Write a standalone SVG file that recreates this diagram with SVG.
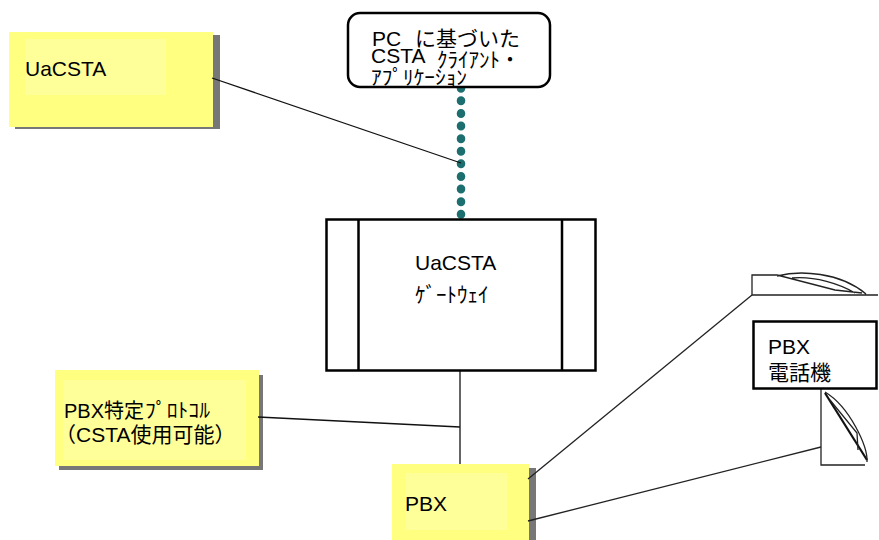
<svg xmlns="http://www.w3.org/2000/svg" width="879" height="540" viewBox="0 0 879 540">
<style>
text{font-family:"Liberation Sans","Noto Sans CJK JP",sans-serif;fill:#000;font-size:21px}
.y{fill:#ffff80}.i{fill:#ffff99}.s{fill:#777}
.l{fill:none;stroke:#111;stroke-width:1.3}
.b{fill:#fff;stroke:#000;stroke-width:2.5}
.p{fill:none;stroke:#222;stroke-width:1.3}
.kana{font-family:"Noto Sans CJK JP",sans-serif}
</style>
<rect width="879" height="540" fill="#fff"/>
<g id="node-uacsta">
<rect class="s" x="15" y="35" width="205" height="94"/>
<rect class="y" x="9" y="32" width="204" height="95"/>
<rect class="i" x="25" y="39" width="141" height="56"/>
<text x="25" y="76">UaCSTA</text>
</g>
<g id="node-protocol">
<rect class="s" x="59" y="375" width="204" height="95"/>
<rect class="y" x="55" y="370" width="204" height="96"/>
<rect class="i" x="63" y="380" width="183" height="80"/>
<text x="64" y="418" style="font-size:20px">PBX特定</text>
<text class="kana" x="145" y="418" style="font-size:20px" textLength="65" lengthAdjust="spacingAndGlyphs">ﾌﾟﾛﾄｺﾙ</text>
<text x="55" y="442">（CSTA使用可能）</text>
</g>
<g id="node-pbx">
<rect class="s" x="400" y="468" width="136" height="72"/>
<rect class="y" x="392" y="464" width="137" height="76"/>
<rect class="i" x="405" y="473" width="102" height="57"/>
<text x="405" y="511">PBX</text>
</g>
<g id="connectors">
<path d="M461 88V215" fill="none" stroke="#1d6f6f" stroke-width="8.500" stroke-linecap="round" stroke-dasharray="0.500 12.100"/>
<path class="l" d="M212 78L461 163"/>
<path class="l" d="M460 371V464"/>
<path class="l" d="M258 417L460 427"/>
<path class="p" d="M528 479L752 295"/>
<path class="p" d="M528 521L821 447"/>
</g>
<g id="node-client">
<rect x="348" y="13" width="202" height="74" rx="12" fill="#fff" stroke="#000" stroke-width="2.500"/>
<text x="372" y="46">PC</text>
<text x="415" y="46">に基づいた</text>
<text x="371" y="63">CSTA</text>
<text class="kana" x="437" y="67">ｸﾗｲｱﾝﾄ</text>
<text class="kana" x="500" y="67" style="font-size:20px">・</text>
<text class="kana" x="371" y="85" style="font-size:20px" textLength="96" lengthAdjust="spacingAndGlyphs">ｱﾌﾟﾘｹｰｼｮﾝ</text>
</g>
<g id="node-gateway">
<rect class="b" x="326.500" y="219.500" width="269" height="151"/>
<path class="b" d="M358.500 219.500V370.500M562 219.500V370.500"/>
<text x="415" y="270">UaCSTA</text>
<text class="kana" x="415" y="302">ｹﾞｰﾄｳｪｲ</text>
</g>
<g id="node-phone-top">
<path class="p" d="M752 295V275H777L835 290L862 293M752 295H878M777 276C800 270 840 272 866 294M792 278C815 276 840 284 855 293"/>
</g>
<g id="node-phone-bottom">
<path class="p" d="M821 388V465H865"/>
<path fill="none" stroke="#111" stroke-width="2.200" d="M825 393L867 460"/>
<path class="p" d="M825 392C850 407 868 447 867 462M830 400L857 433L858 450"/>
</g>
<g id="node-phone-set">
<rect x="753.500" y="321.500" width="123" height="67" fill="#fff" stroke="#000" stroke-width="2.500"/>
<text x="768" y="354">PBX</text>
<text x="768" y="380">電話機</text>
</g>
</svg>
